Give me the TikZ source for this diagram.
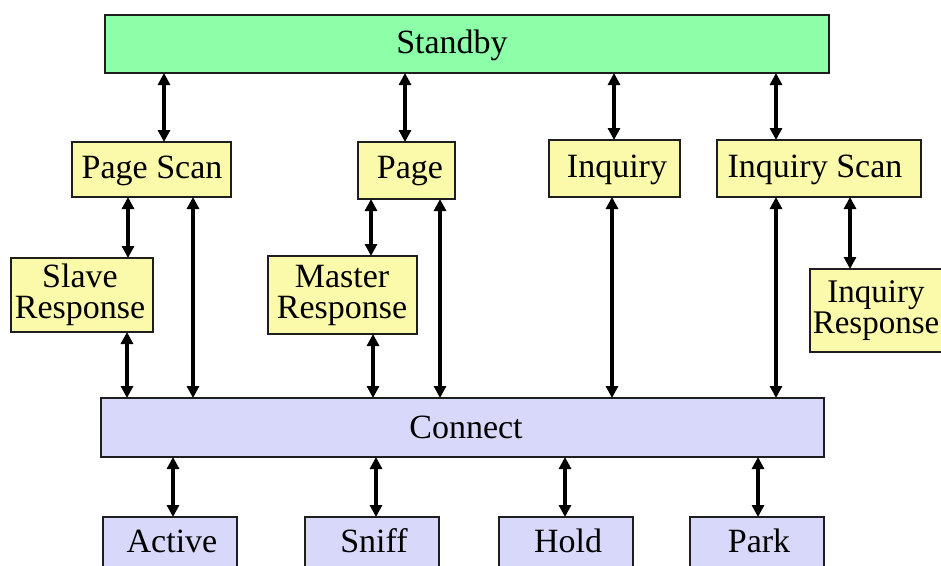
\documentclass[tikz,border=0pt]{standalone}
\usepackage{fontspec}
\setmainfont{Liberation Serif}
\usetikzlibrary{arrows.meta}
\definecolor{sbgreen}{RGB}{140,255,168}
\definecolor{stateyellow}{RGB}{250,250,170}
\definecolor{statelav}{RGB}{216,216,250}
\definecolor{edgegray}{RGB}{30,30,30}
\tikzset{
  boxbase/.style={draw=edgegray, line width=2pt, inner sep=0pt, outer sep=0pt, font=\fontsize{34}{31}\selectfont, align=center},
  greenbox/.style={boxbase, fill=sbgreen},
  ybox/.style={boxbase, fill=stateyellow},
  lbox/.style={boxbase, fill=statelav},
  lbl/.style={inner sep=0pt, font=\fontsize{34}{31}\selectfont, align=center},
  arr/.style={line width=4pt, {Triangle[length=12pt,width=12pt]}-{Triangle[length=12pt,width=12pt]}},
}
\begin{document}
\begin{tikzpicture}[x=1pt,y=-1pt]
\useasboundingbox (0,0) rectangle (941,565);
\fill[white] (0,0) rectangle (941,565);
\clip (0,0) rectangle (941,565);
% boxes (centre, width, height)
\node[greenbox, minimum width=724pt, minimum height=58pt] (sb) at (467,44) {};
\node[lbl] (sbt) at (452,45) {Standby};
\node[ybox, minimum width=159pt, minimum height=55pt] (ps) at (151.5,169.5) {};
\node[lbl] (pst) at (152,171) {Page Scan};
\node[ybox, minimum width=97pt, minimum height=57pt] (pg) at (406.5,170.5) {};
\node[lbl] (pgt) at (410,171) {Page};
\node[ybox, minimum width=131pt, minimum height=57pt] (iq) at (614.5,168.5) {};
\node[lbl] (iqt) at (617,169.5) {Inquiry};
\node[ybox, minimum width=204pt, minimum height=57pt] (is) at (819,168.5) {};
\node[lbl] (ist) at (815,169.5) {Inquiry Scan};
\node[ybox, minimum width=142pt, minimum height=74pt] (sr) at (82,295) {};
\node[lbl] (srt) at (80,295) {Slave\\Response};
\node[ybox, minimum width=149pt, minimum height=78pt] (mr) at (342.5,295) {};
\node[lbl] (mrt) at (342,295) {Master\\Response};
\node[ybox, minimum width=140pt, minimum height=83pt] (ir) at (880,310.5) {};
\node[lbl, font=\fontsize{33}{31}\selectfont] (irt) at (876,311) {Inquiry\\Response};
\node[lbox, minimum width=723pt, minimum height=59pt] (cn) at (462.5,427.5) {};
\node[lbl] (cnt) at (466,427.5) {Connect};
\node[lbox, minimum width=134pt, minimum height=80pt] (ac) at (170,557) {};
\node[lbox, minimum width=134pt, minimum height=80pt] (sn) at (372,557) {};
\node[lbox, minimum width=134pt, minimum height=80pt] (ho) at (566,557) {};
\node[lbox, minimum width=134pt, minimum height=80pt] (pk) at (757,557) {};
\node[lbl, anchor=base] (act) at (172,552) {Active};
\node[lbl, anchor=base] (snt) at (374,552) {Sniff};
\node[lbl, anchor=base] (hot) at (568,552) {Hold};
\node[lbl, anchor=base] (pkt) at (759,552) {Park};
% connectors
\draw[arr] (164,0 |- sb.south) -- (164,0 |- ps.north);
\draw[arr] (405,0 |- sb.south) -- (405,0 |- pg.north);
\draw[arr] (614,0 |- sb.south) -- (614,0 |- iq.north);
\draw[arr] (776,0 |- sb.south) -- (776,0 |- is.north);
\draw[arr] (128,0 |- ps.south) -- (128,0 |- sr.north);
\draw[arr] (193,0 |- ps.south) -- (193,0 |- cn.north);
\draw[arr] (371,0 |- pg.south) -- (371,0 |- mr.north);
\draw[arr] (440,0 |- pg.south) -- (440,0 |- cn.north);
\draw[arr] (612,0 |- iq.south) -- (612,0 |- cn.north);
\draw[arr] (776,0 |- is.south) -- (776,0 |- cn.north);
\draw[arr] (850,0 |- is.south) -- (850,0 |- ir.north);
\draw[arr] (127,0 |- sr.south) -- (127,0 |- cn.north);
\draw[arr] (373,0 |- mr.south) -- (373,0 |- cn.north);
\draw[arr] (173,0 |- cn.south) -- (173,0 |- ac.north);
\draw[arr] (376,0 |- cn.south) -- (376,0 |- sn.north);
\draw[arr] (565,0 |- cn.south) -- (565,0 |- ho.north);
\draw[arr] (758,0 |- cn.south) -- (758,0 |- pk.north);
\end{tikzpicture}
\end{document}
